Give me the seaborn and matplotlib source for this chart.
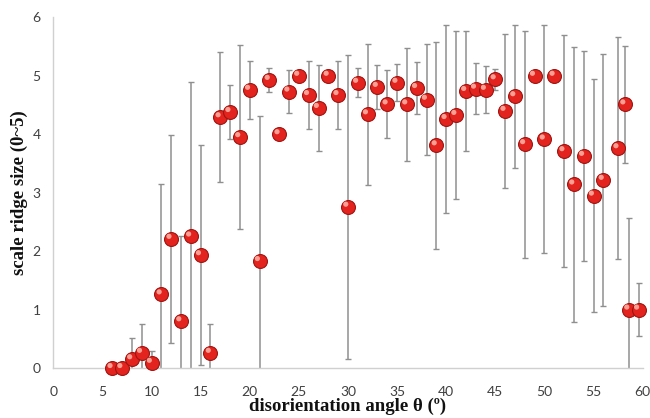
import matplotlib
matplotlib.use("Agg")
import matplotlib.pyplot as plt
import matplotlib.transforms as mtransforms
import seaborn as sns
import pandas as pd

angle = [6, 7, 8, 9, 10, 11, 12, 13, 14, 15, 16, 17, 18, 19, 20,
         21, 22, 23, 24, 25, 26, 27, 28, 29, 30, 31, 32, 33, 34, 35,
         36, 37, 38, 39, 40, 41, 42, 43, 44, 45, 46, 47, 48, 49, 50,
         51, 52, 53, 54, 55, 56, 57.5, 58.2, 58.6, 59.6]
ridge = [0.0, 0.0, 0.15, 0.26, 0.09, 1.26, 2.21, 0.80, 2.25, 1.93, 0.26, 4.29, 4.38, 3.95, 4.76,
         1.83, 4.93, 4.00, 4.73, 5.00, 4.67, 4.45, 5.00, 4.67, 2.76, 4.88, 4.34, 4.81, 4.51, 4.88,
         4.51, 4.79, 4.59, 3.81, 4.26, 4.33, 4.74, 4.78, 4.76, 4.94, 4.40, 4.65, 3.83, 5.00, 3.91,
         5.00, 3.71, 3.14, 3.63, 2.95, 3.22, 3.76, 4.51, 1.00, 1.00]
error = [0.0, 0.0, 0.37, 0.50, 0.20, 1.89, 1.78, 1.45, 2.64, 1.88, 0.50, 1.11, 0.47, 1.57, 0.50,
         2.49, 0.20, 0.0, 0.37, 0.0, 0.58, 0.73, 0.0, 0.58, 2.60, 0.25, 1.21, 0.38, 0.58, 0.32,
         0.97, 0.44, 0.95, 1.77, 1.60, 1.43, 1.03, 0.44, 0.40, 0.18, 1.32, 1.22, 1.94, 0.0, 1.95,
         0.0, 1.99, 2.35, 1.80, 2.00, 2.16, 1.90, 1.00, 1.57, 0.45]
x_ticks = [0, 5, 10, 15, 20, 25, 30, 35, 40, 45, 50, 55, 60]
y_ticks = [0, 1, 2, 3, 4, 5, 6]

df = pd.DataFrame({"angle": angle, "ridge": ridge, "error": error})

sns.set_style("white")
fig = plt.figure(figsize=(6.5, 4.18), dpi=100)
ax = fig.add_axes([0.082, 0.1196, 0.9068, 0.839])

ax.errorbar(df["angle"], df["ridge"], yerr=df["error"], fmt="none",
            ecolor="#8f8f8f", elinewidth=1.1, capsize=2.2, capthick=1.0, zorder=2)

sns.scatterplot(data=df, x="angle", y="ridge", ax=ax, s=100,
                color="#e3231d", edgecolor="#9e1410", linewidth=0.8,
                zorder=3, clip_on=False, legend=False)

# specular highlight on each sphere
hl_tr = mtransforms.offset_copy(ax.transData, fig=fig, x=-1.6, y=1.8, units="points")
ax.scatter(df["angle"], df["ridge"], s=14, color="#ff9f94", edgecolor="none",
           zorder=4, clip_on=False, transform=hl_tr)

ax.set_xlim(0, 60)
ax.set_ylim(0, 6)
ax.set_xticks(x_ticks)
ax.set_yticks(y_ticks)

for side in ["top", "right"]:
    ax.spines[side].set_visible(False)
for side in ["left", "bottom"]:
    ax.spines[side].set_color("#d0d0d0")
    ax.spines[side].set_linewidth(1.0)

ax.tick_params(axis="both", which="major", direction="out", width=1.0,
               color="#d0d0d0", labelsize=10, labelcolor="#404040")
ax.tick_params(axis="x", length=3, pad=10)
ax.tick_params(axis="y", length=4, pad=5)
for lbl in ax.get_xticklabels() + ax.get_yticklabels():
    lbl.set_family("Lato")

ax.set_xlabel("disorientation angle θ (º)", family="Liberation Serif",
              fontweight="bold", fontsize=13.5, color="#111111", labelpad=0)
ax.set_ylabel("scale ridge size (0~5)", family="Liberation Serif",
              fontweight="bold", fontsize=13.5, color="#111111", labelpad=3.5)

fig.savefig("out.png", dpi=100)
